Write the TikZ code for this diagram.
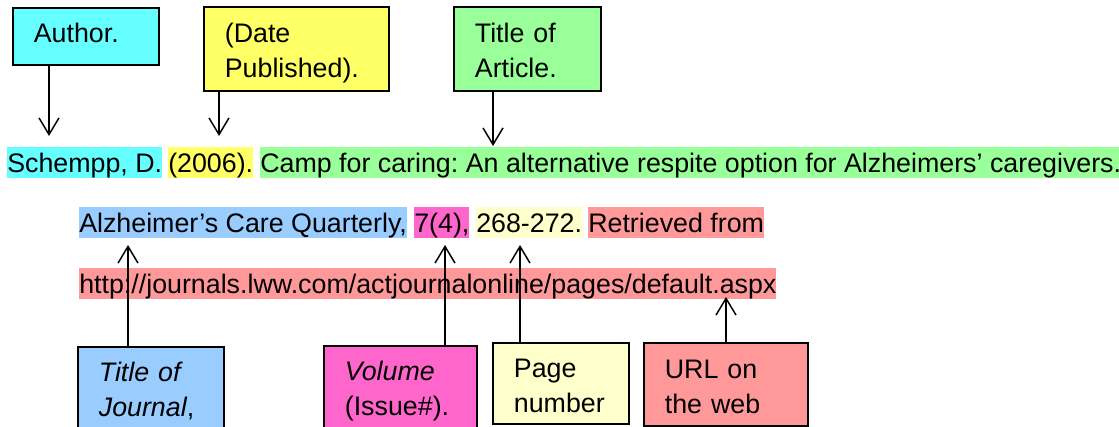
\documentclass[tikz,border=0pt]{standalone}
\usepackage{fontspec}
\setmainfont{Liberation Sans}
\usepackage{tikz}
\usetikzlibrary{arrows.meta}
\usetikzlibrary{positioning}

\definecolor{authcyan}{HTML}{66FFFF}
\definecolor{dateyellow}{HTML}{FFFF66}
\definecolor{titlegreen}{HTML}{99FF99}
\definecolor{jourblue}{HTML}{99CCFF}
\definecolor{volpink}{HTML}{FF66CC}
\definecolor{pagecream}{HTML}{FFFFCC}
\definecolor{urlred}{HTML}{FF9999}

\frenchspacing
\newcommand{\citefont}{\fontsize{20.1}{26}\selectfont}

\begin{document}
\begin{tikzpicture}[x=0.75pt,y=-0.75pt,
  tag/.style={draw=black,line width=1.3pt,anchor=north west,align=left,
              inner xsep=15.75pt,inner ysep=0pt,font=\citefont},
  hl/.style={anchor=base west,inner sep=0pt,text height=19.5pt,text depth=4.1pt,font=\citefont},
  arr/.style={line width=1.1pt,-{Straight Barb[length=12.5pt,width=15pt]}}]

  \clip (0,0) rectangle (1119,427);

	%labels on top
 \node[tag,fill=authcyan,text width=78pt,text height=26.25pt,text depth=16.5pt] (author) at (12,7) {Author.};
 \node[tag,fill=dateyellow,text width=107.25pt,text height=27pt,text depth=36pt] (date) at (203,6) {(Date\\Published).};
 \node[tag,fill=titlegreen,text width=78.75pt,text height=27pt,text depth=36pt] (title) at (453,6) {Title of\\Article.};

	%citation, one line at a time
 \def\yl{173}
    \foreach \x/\col/\name/\txt in {7/authcyan/sAuth/{Schempp, D.},168/dateyellow/sDate/{(2006).},
        260/titlegreen/sTitle/{Camp for caring: An alternative respite option for Alzheimers’ caregivers.}}{
         \node[hl,fill=\col] (\name) at (\x,\yl) {\txt};
    }

 \def\yl{233}
    \foreach \x/\col/\name/\txt in {79/jourblue/sJour/{Alzheimer’s Care Quarterly,},414/volpink/sVol/{7(4),},
        476/pagecream/sPage/{268-272.},588/urlred/sRetr/{Retrieved from}}{
         \node[hl,fill=\col] (\name) at (\x,\yl) {\txt};
    }

 \def\yl{294}
    \foreach \x/\col/\name/\txt in {79/urlred/sUrl/{http://journals.lww.com/actjournalonline/pages/default.aspx}}{
         \node[hl,fill=\col] (\name) at (\x,\yl) {\txt};
    }

	%labels at the bottom
 \node[tag,fill=jourblue,text width=78pt,text height=26.25pt,text depth=36.75pt] (journal) at (77,346) {\textit{Title of}\\\textit{Journal},};
 \node[tag,fill=volpink,text width=83.25pt,text height=26.25pt,text depth=36.75pt] (volume) at (323,345) {\textit{Volume}\\(Issue\#).};
 \node[tag,fill=pagecream,text width=70.5pt,text height=26.25pt,text depth=34.5pt] (pages) at (492,342) {Page\\number};
 \node[tag,fill=urlred,text width=91.5pt,text height=27pt,text depth=35.25pt] (url) at (643,342) {URL on\\the web};

	%arrow tips
 \coordinate (tAuth) at (49,136);
 \coordinate (tDate) at (219,136);
 \coordinate (tTitle) at (493,146);
 \coordinate (tJour) at (128,245);
 \coordinate (tVol) at (445,245);
 \coordinate (tPage) at (520,245);
 \coordinate (tUrl) at (726,297);

 \draw[arr] (author.south -| tAuth) -- (tAuth);
 \draw[arr] (date.south -| tDate) -- (tDate);
 \draw[arr] (title.south -| tTitle) -- (tTitle);
 \draw[arr] (journal.north -| tJour) -- (tJour);
 \draw[arr] (volume.north -| tVol) -- (tVol);
 \draw[arr] (pages.north -| tPage) -- (tPage);
 \draw[arr] (url.north -| tUrl) -- (tUrl);

\end{tikzpicture}
\end{document}
